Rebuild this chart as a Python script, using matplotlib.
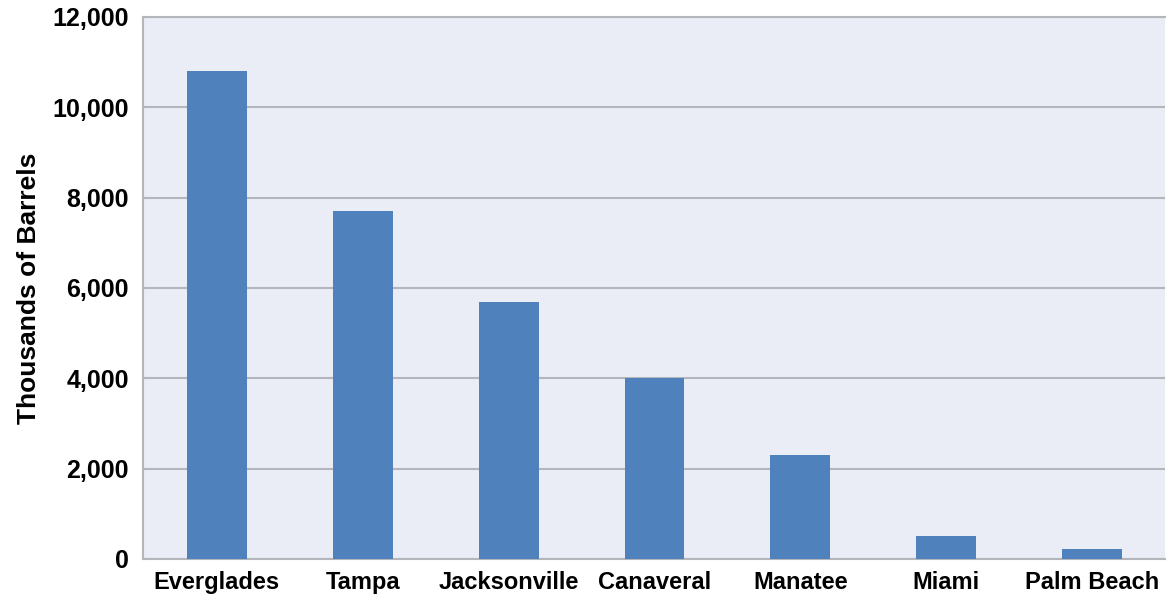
import matplotlib.pyplot as plt
from matplotlib.ticker import FuncFormatter

ports = ['Everglades', 'Tampa', 'Jacksonville', 'Canaveral', 'Manatee', 'Miami', 'Palm Beach']
barrels = [10800, 7700, 5700, 4000, 2300, 500, 220]
y_ticks = [0, 2000, 4000, 6000, 8000, 10000, 12000]

plt.rcParams['font.family'] = ['Liberation Sans', 'DejaVu Sans']


def make_chart():
    fig = plt.figure(figsize=(11.66, 5.96), dpi=100)
    ax = fig.add_axes([0.1226, 0.0621, 0.8765, 0.9094])
    ax.set_facecolor('#EAEDF5')

    x = range(len(ports))
    ax.bar(x, barrels, width=0.41, color='#4F81BD', zorder=3)

    ax.set_xlim(-0.507, 6.5)
    ax.set_ylim(0, 12000)
    ax.set_yticks(y_ticks)
    ax.yaxis.set_major_formatter(FuncFormatter(lambda v, p: f'{int(v):,}'))
    ax.set_xticks(list(x))
    ax.set_xticklabels(ports)
    ax.grid(axis='y', color='#B4B6BC', linewidth=1.5, zorder=1)
    ax.tick_params(axis='y', length=0, labelsize=18, pad=10)
    ax.tick_params(axis='x', length=0, labelsize=17, pad=9)
    for lbl in ax.get_xticklabels() + ax.get_yticklabels():
        lbl.set_fontweight('bold')

    for side in ['left', 'top', 'bottom']:
        ax.spines[side].set_color('#B4B6BC')
        ax.spines[side].set_linewidth(1.5)
    ax.spines['right'].set_visible(False)

    ax.set_ylabel('Thousands of Barrels', fontsize=19, fontweight='bold', labelpad=8)

    fig.savefig('out.png', dpi=100, facecolor='white')


if __name__ == '__main__':
    make_chart()
